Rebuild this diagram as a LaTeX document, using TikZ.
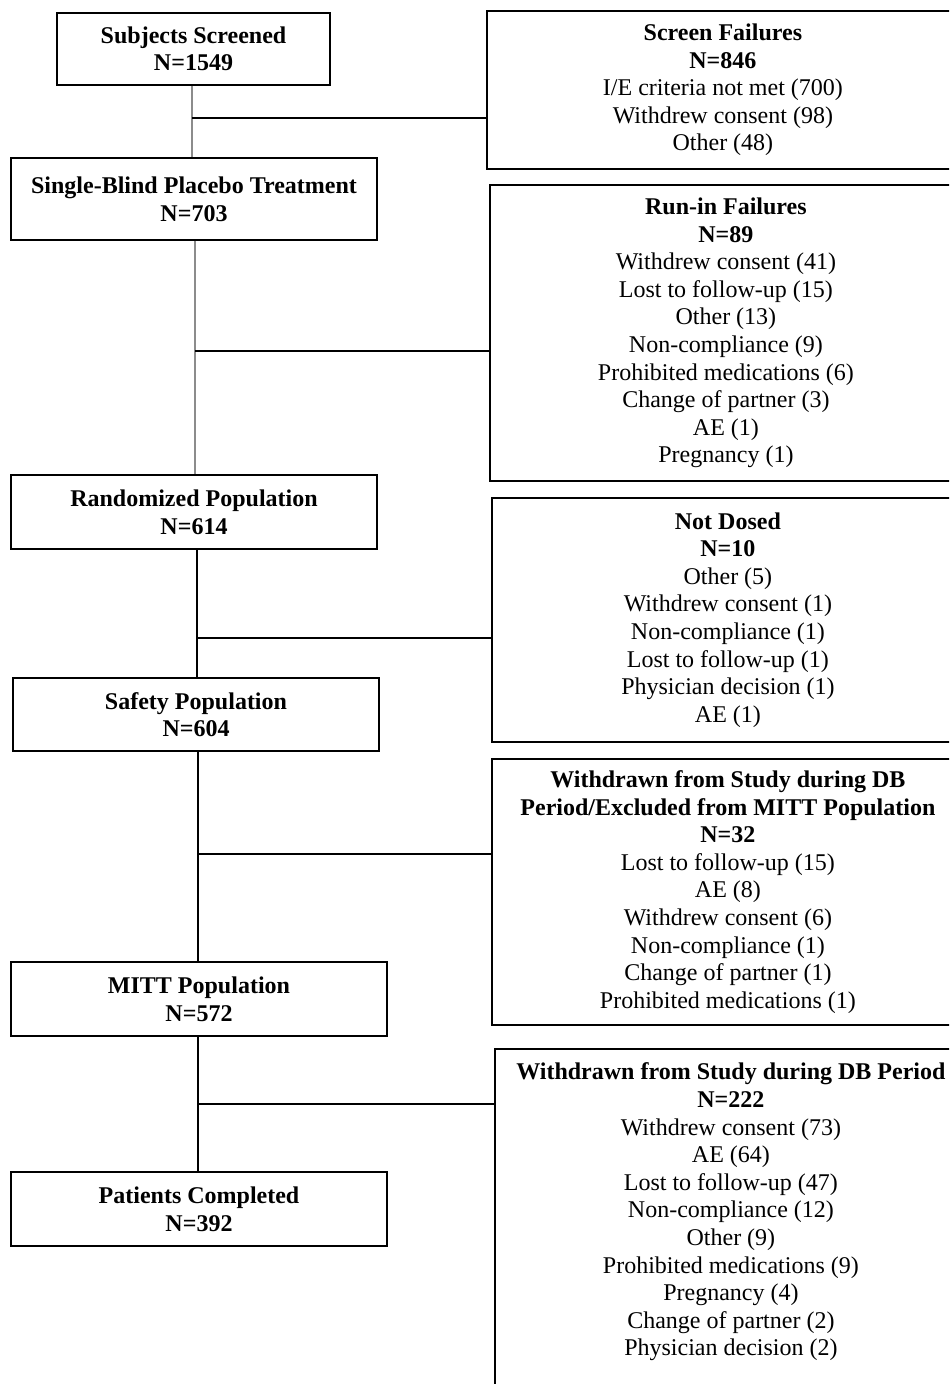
\documentclass[tikz,border=0pt]{standalone}
\usepackage{fontspec}
\setmainfont{Liberation Serif}
\tikzstyle{stage} = [
    rectangle,
    draw=black,
    line width=0.9pt,
    align=center,
    font=\fontsize{12}{13.8}\selectfont\bfseries
]
\tikzstyle{reasons} = [
    rectangle,
    draw=black,
    line width=0.9pt,
    align=center,
    anchor=north west,
    minimum width=236pt,
    font=\fontsize{12}{13.8}\selectfont
]
\tikzstyle{link} = [line width=0.7pt, black]
\tikzstyle{graylink} = [line width=0.7pt, black!45]

\begin{document}
\begin{tikzpicture}[x=0.5pt, y=-0.5pt]
\useasboundingbox (0,0) rectangle (949,1384);
\clip (0,0) rectangle (949,1384);

\node (screened) [stage, minimum width=136.5pt, minimum height=36pt] at (193.5,49)
{Subjects Screened\\N=1549};

\node (placebo) [stage, minimum width=183pt, minimum height=41pt] at (194,199)
{Single-Blind Placebo Treatment\\N=703};

\node (randomized) [stage, minimum width=183pt, minimum height=37pt] at (194,512)
{Randomized Population\\N=614};

\node (safety) [stage, minimum width=183pt, minimum height=36.5pt] at (196,714.5)
{Safety Population\\N=604};

\node (mitt) [stage, minimum width=188pt, minimum height=37pt] at (199,999)
{MITT Population\\N=572};

\node (completed) [stage, minimum width=188pt, minimum height=37pt] at (199,1209)
{Patients Completed\\N=392};

\node (screenfail) [reasons, minimum height=79pt] at (486,10)
{\textbf{Screen Failures}\\\textbf{N=846}\\I/E criteria not met (700)\\
Withdrew consent (98)\\Other (48)};

\node (runinfail) [reasons, minimum height=148pt] at (489,184)
{\textbf{Run-in Failures}\\\textbf{N=89}\\Withdrew consent (41)\\
Lost to follow-up (15)\\Other (13)\\Non-compliance (9)\\
Prohibited medications (6)\\Change of partner (3)\\AE (1)\\Pregnancy (1)};

\node (notdosed) [reasons, minimum height=122pt] at (491,497)
{\textbf{Not Dosed}\\\textbf{N=10}\\Other (5)\\Withdrew consent (1)\\
Non-compliance (1)\\Lost to follow-up (1)\\Physician decision (1)\\AE (1)};

\node (excluded) [reasons, minimum height=133pt] at (491,758)
{\textbf{Withdrawn from Study during DB}\\
\textbf{Period/Excluded from MITT Population}\\\textbf{N=32}\\
Lost to follow-up (15)\\AE (8)\\Withdrew consent (6)\\Non-compliance (1)\\
Change of partner (1)\\Prohibited medications (1)};

\node (withdrawn) [reasons, inner ysep=7pt, text depth=30pt] at (494,1048)
{\textbf{Withdrawn from Study during DB Period}\\\textbf{N=222}\\
Withdrew consent (73)\\AE (64)\\Lost to follow-up (47)\\Non-compliance (12)\\
Other (9)\\Prohibited medications (9)\\Pregnancy (4)\\Change of partner (2)\\
Physician decision (2)};

% junctions on the main line
\coordinate (j1) at (192,118);
\coordinate (j2) at (195,351);
\coordinate (j3) at (197,638);
\coordinate (j4) at (198,854);
\coordinate (j5) at (198,1104);

\draw [graylink] (screened.south -| j1) -- (placebo.north -| j1);
\draw [graylink] (placebo.south -| j2) -- (randomized.north -| j2);
\draw [link] (randomized.south -| j3) -- (safety.north -| j3);
\draw [link] (safety.south -| j4) -- (mitt.north -| j4);
\draw [link] (mitt.south -| j5) -- (completed.north -| j5);

\draw [link] (j1) -- (j1 -| screenfail.west);
\draw [link] (j2) -- (j2 -| runinfail.west);
\draw [link] (j3) -- (j3 -| notdosed.west);
\draw [link] (j4) -- (j4 -| excluded.west);
\draw [link] (j5) -- (j5 -| withdrawn.west);

\end{tikzpicture}
\end{document}
